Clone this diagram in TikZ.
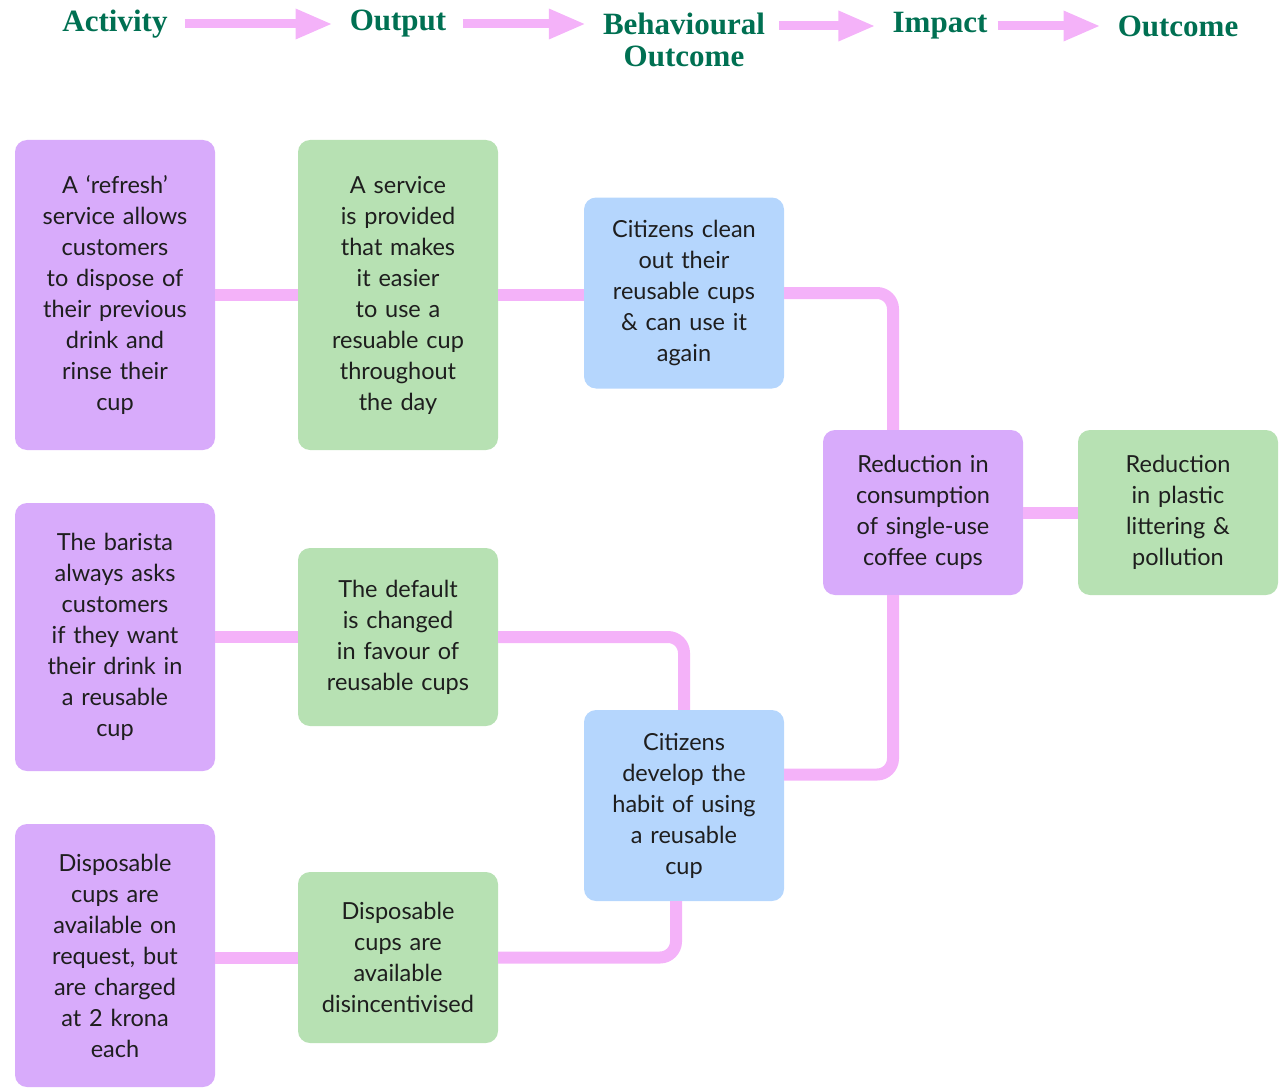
\documentclass[tikz,border=0pt]{standalone}
\usepackage{fontspec}
\setmainfont{Lato}
\newfontfamily\headfont{Liberation Serif}
\usetikzlibrary{arrows.meta}
\definecolor{boxpurple}{RGB}{216,171,251}
\definecolor{boxgreen}{RGB}{183,225,179}
\definecolor{boxblue}{RGB}{181,214,253}
\definecolor{connpink}{RGB}{244,178,249}
\definecolor{headgreen}{RGB}{0,112,82}
\definecolor{textdark}{RGB}{30,30,30}
\begin{document}
\begin{tikzpicture}[x=1pt,y=-1pt,
  box/.style={rounded corners=12pt, text width=194pt, inner sep=3pt, align=center,
    font=\fontsize{23.5}{31}\selectfont, text=textdark},
  act/.style={box, fill=boxpurple},
  outp/.style={box, fill=boxgreen},
  beh/.style={box, fill=boxblue},
  conn/.style={line width=12pt, draw=connpink, rounded corners=16pt},
  head/.style={font=\headfont\bfseries\fontsize{31}{32}\selectfont, text=headgreen, align=center, inner sep=0pt},
  harrow/.style={line width=9pt, draw=connpink, -{Triangle[length=37pt,width=28pt]}, shorten <=17pt, shorten >=17pt}
]
\useasboundingbox (0,0) rectangle (1285,1089);

% header
\node[head] (hA) at (115,24) {Activity};
\node[head] (hO) at (398,24) {Output};
\node[head] (hB) at (684,40) {Behavioural\\Outcome};
\node[head] (hI) at (940,26) {Impact};
\node[head] (hOut) at (1178,26) {Outcome};
\draw[harrow] (hA) -- (hO);
\draw[harrow] (hO.east) -- (hO.east -| hB.west);
\draw[harrow, shorten <=14pt] (hB.east |- hI.west) -- (hI.west);
\draw[harrow, shorten <=10pt] (hI) -- (hOut);

% nodes
\node[act, minimum height=310pt] (A1) at (115,295) {A ‘refresh’\\service allows\\customers\\to dispose of\\their previous\\drink and\\rinse their\\cup};
\node[outp, minimum height=310pt] (O1) at (398,295) {A service\\is provided\\that makes\\it easier\\to use a\\resuable cup\\throughout\\the day};
\node[beh, minimum height=191pt] (B1) at (684,293) {Citizens clean\\out their\\reusable cups\\\& can use it\\again};
\node[act, minimum height=268pt] (A2) at (115,637) {The barista\\always asks\\customers\\if they want\\their drink in\\a reusable\\cup};
\node[outp, minimum height=178pt] (O2) at (398,637) {The default\\is changed\\in favour of\\reusable cups};
\node[beh, minimum height=191pt] (B2) at (684,805.5) {Citizens\\develop the\\habit of using\\a reusable\\cup};
\node[act, minimum height=263pt] (A3) at (115,955.5) {Disposable\\cups are\\available on\\request, but\\are charged\\at 2 krona\\each};
\node[outp, minimum height=171pt] (O3) at (398,957.5) {Disposable\\cups are\\available\\disincentivised};
\node[act, minimum height=165pt] (I) at (923,512.5) {Reduction in\\consumption\\of single-use\\coffee cups};
\node[outp, minimum height=165pt] (Out) at (1178,512.5) {Reduction\\in plastic\\littering \&\\pollution};

% connectors
\draw[conn] (A1.east) -- (O1.west);
\draw[conn] (O1.east) -- (B1.west |- O1.east);
\draw[conn] (B1.east) -| ([xshift=-30pt]I.north);
\draw[conn] (A2.east) -- (O2.west);
\draw[conn] (O2.east) -| (B2.north);
\draw[conn] ([yshift=31pt]B2.east) -| ([xshift=-30pt]I.south);
\draw[conn] (A3.east |- O3.east) -- (O3.west);
\draw[conn] (O3.east) -| ([xshift=-8pt]B2.south);
\draw[conn] (I.east) -- (Out.west);
\end{tikzpicture}
\end{document}
